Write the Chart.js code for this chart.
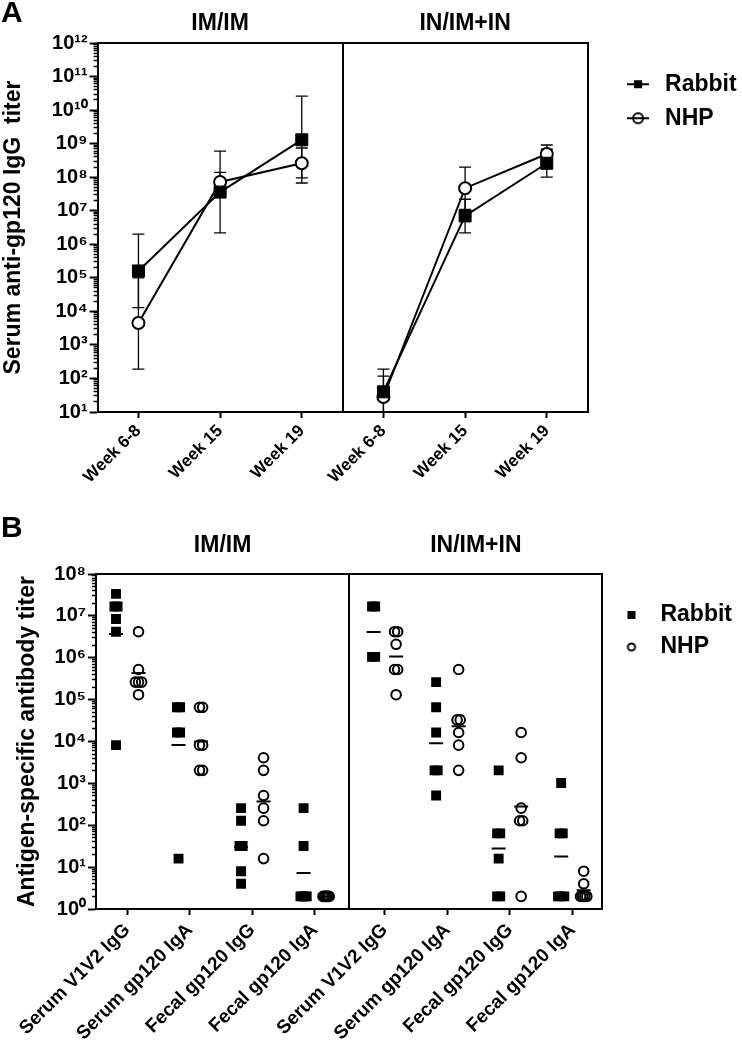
<!DOCTYPE html>
<html><head><meta charset="utf-8">
<script src="https://cdn.jsdelivr.net/npm/chart.js@4.4.1/dist/chart.umd.min.js"></script>
<style>
html,body{margin:0;padding:0;background:#fff;}
#wrap{position:relative;width:742px;height:1042px;overflow:hidden;font-family:"Liberation Sans",Arial,sans-serif;}
canvas{position:absolute;left:0;}
#cA{top:0}
#cB{top:490px}
.lbl{position:absolute;font-weight:bold;font-size:30px;line-height:1;color:#000}
</style></head>
<body><div id="wrap">
<canvas id="cA" width="742" height="490"></canvas>
<canvas id="cB" width="742" height="552"></canvas>
<div class="lbl" style="left:1px;top:-3px">A</div>
<div class="lbl" style="left:1px;top:512px">B</div>
</div>
<script>
// ---------- Panel A data ----------
const weekLabels = ['Week 6-8', 'Week 15', 'Week 19', 'Week 6-8', 'Week 15', 'Week 19'];
const regimenLabels = ['IM/IM', 'IN/IM+IN'];
const panelOfWeek = [0, 0, 0, 1, 1, 1];
const rabbitTiterA = [1.6e5, 3.6e7, 1.3e9, 40, 7.0e6, 2.6e8];
const rabbitLowA   = [1.3e4, 2.2e6, 6.7e7, 8, 2.2e6, 1.0e8];
const rabbitHighA  = [2.0e6, 6.0e8, 2.6e10, 190, 2.2e7, 6.8e8];
const nhpTiterA = [4.5e3, 7.2e7, 2.6e8, 28, 4.7e7, 4.9e8];
const nhpLowA   = [190, 3.7e7, 9.5e7, 6, 1.1e7, 2.6e8];
const nhpHighA  = [1.0e5, 1.4e8, 7.4e8, 118, 2.0e8, 9.1e8];
const yExpA = [1, 12];

// ---------- Panel B data ----------
const assayLabels = ['Serum V1V2 IgG', 'Serum gp120 IgA', 'Fecal gp120 IgG', 'Fecal gp120 IgA',
                     'Serum V1V2 IgG', 'Serum gp120 IgA', 'Fecal gp120 IgG', 'Fecal gp120 IgA'];
const regimenOfAssay = [0, 0, 0, 0, 1, 1, 1, 1];
const rabbitTiterB = [
  [33554432, 16777216, 16777216, 8388608, 4194304, 8192],
  [65536, 65536, 16384, 16384, 16],
  [256, 128, 32, 32, 8, 4],
  [256, 32, 2, 2, 2, 2],
  [16777216, 16777216, 1048576, 1048576],
  [262144, 65536, 16384, 2048, 2048, 512],
  [2048, 64, 64, 16, 2, 2],
  [1024, 64, 64, 2, 2, 2]
];
const nhpTiterB = [
  [4194304, 524288, 262144, 262144, 262144, 131072],
  [65536, 65536, 8192, 8192, 2048, 2048],
  [4096, 2048, 512, 256, 128, 16],
  [2, 2, 2, 2, 2, 2],
  [4194304, 4194304, 2097152, 524288, 524288, 131072],
  [524288, 32768, 32768, 16384, 8192, 2048],
  [16384, 4096, 256, 128, 128, 2],
  [8, 4, 2, 2, 2, 2]
];
const rabbitMeanB = [3.7e6, 8.3e3, 30, 7.2, 4.1e6, 9.1e3, 28, 18];
const nhpMeanB    = [4.3e5, 1.0e4, 370, 2, 1.07e6, 2.3e4, 280, 2.8];
const yExpB = [0, 8];

// ---------- helpers ----------
const FONT = '"Liberation Sans", Arial, sans-serif';
Chart.defaults.font.family = FONT;
Chart.defaults.color = '#000';
const SUP = '⁰¹²³⁴⁵⁶⁷⁸⁹';
const sup = n => String(n).split('').map(d => SUP[+d]).join('');
const powLabel = v => '10' + sup(Math.round(Math.log10(v)));
function majorTicks(r) { const t = []; for (let e = r[0]; e <= r[1]; e++) t.push({value: Math.pow(10, e)}); return t; }
function minorTicks(r) { const t = []; for (let e = r[0]; e < r[1]; e++) for (let k = 2; k <= 9; k++) t.push({value: k * Math.pow(10, e)}); return t; }
function icon(w, h, draw) { const c = document.createElement('canvas'); c.width = w; c.height = h; draw(c.getContext('2d')); return c; }

const errorBarPlugin = {
  id: 'errorBars',
  beforeDatasetsDraw(chart) {
    const {ctx, chartArea: a, scales: {x, y}} = chart;
    ctx.save();
    ctx.beginPath(); ctx.rect(a.left, a.top, a.right - a.left, a.bottom - a.top); ctx.clip();
    ctx.strokeStyle = '#000'; ctx.lineWidth = 1.3;
    chart.data.datasets.forEach(ds => {
      if (!ds.errLow) return;
      ds.errLow.forEach((lo, i) => {
        const px = x.getPixelForValue(i);
        const y1 = y.getPixelForValue(lo), y2 = y.getPixelForValue(ds.errHigh[i]);
        ctx.beginPath();
        ctx.moveTo(px, y1); ctx.lineTo(px, y2);
        ctx.moveTo(px - 6, y1); ctx.lineTo(px + 6, y1);
        ctx.moveTo(px - 6, y2); ctx.lineTo(px + 6, y2);
        ctx.stroke();
      });
    });
    ctx.restore();
  }
};

function iconLegend(icons) {
  return chart => Chart.defaults.plugins.legend.labels.generateLabels(chart)
    .filter(it => icons[it.datasetIndex])
    .map(it => Object.assign(it, {pointStyle: icons[it.datasetIndex], fontColor: '#000'}));
}

const topAxis = (h, pad) => ({
  type: 'category', labels: regimenLabels, position: 'top', offset: true,
  grid: {offset: true, drawTicks: false, lineWidth: 2, color: c => c.index === 1 ? '#000' : 'rgba(0,0,0,0)'},
  border: {display: true, color: '#000', width: 2},
  ticks: {font: {size: 23, weight: 'bold'}, padding: pad},
  afterFit(s) { s.height = h; }
});
const rightFrame = w => ({
  type: 'linear', position: 'right',
  grid: {display: false, drawTicks: false}, ticks: {display: false},
  border: {display: true, color: '#000', width: 2},
  afterFit(s) { s.width = w; }
});
const yMajor = (r, w, title, tpad) => ({
  type: 'logarithmic', position: 'left', min: Math.pow(10, r[0]), max: Math.pow(10, r[1]),
  afterBuildTicks(s) { s.ticks = majorTicks(r); },
  ticks: {autoSkip: false, callback: powLabel, font: {size: 20, weight: 'bold'}, padding: 2},
  grid: {drawOnChartArea: false, tickLength: 8, tickWidth: 2, tickColor: '#000'},
  border: {color: '#000', width: 2},
  title: {display: true, text: title, font: {size: 23, weight: 'bold'}, padding: {top: tpad, bottom: 0}},
  afterFit(s) { s.width = w; }
});
const yMinor = r => ({
  type: 'logarithmic', position: 'left', weight: -1, min: Math.pow(10, r[0]), max: Math.pow(10, r[1]),
  afterBuildTicks(s) { s.ticks = minorTicks(r); },
  ticks: {display: false},
  grid: {drawOnChartArea: false, tickLength: 4, tickWidth: 1.5, tickColor: '#000'},
  border: {display: false},
  afterFit(s) { s.width = 0; }
});

// ---------- Chart A ----------
const iconRabbitA = icon(22, 14, g => { g.fillStyle = '#000'; g.fillRect(0, 6, 22, 2); g.fillRect(7, 3, 8, 8); });
const iconNhpA = icon(22, 14, g => {
  g.strokeStyle = '#000'; g.lineWidth = 2;
  g.beginPath(); g.moveTo(0, 7); g.lineTo(22, 7); g.stroke();
  g.beginPath(); g.arc(11, 7, 5, 0, 2 * Math.PI); g.stroke();
});
const hideCross = c => panelOfWeek[c.p0DataIndex] !== panelOfWeek[c.p1DataIndex] ? 'rgba(0,0,0,0)' : undefined;

new Chart(document.getElementById('cA'), {
  type: 'line',
  data: {
    labels: weekLabels,
    datasets: [
      {label: 'Rabbit', data: rabbitTiterA, errLow: rabbitLowA, errHigh: rabbitHighA,
       borderColor: '#000', borderWidth: 2, pointStyle: 'rect', pointRadius: 8.5,
       pointBackgroundColor: '#000', pointBorderColor: '#000', pointBorderWidth: 1,
       segment: {borderColor: hideCross}},
      {label: 'NHP', data: nhpTiterA, errLow: nhpLowA, errHigh: nhpHighA,
       borderColor: '#000', borderWidth: 2, pointStyle: 'circle', pointRadius: 6,
       pointBackgroundColor: '#fff', pointBorderColor: '#000', pointBorderWidth: 2,
       segment: {borderColor: hideCross}}
    ]
  },
  options: {
    responsive: false, animation: false, events: [],
    layout: {padding: 0},
    scales: {
      x: {type: 'category', offset: true,
          grid: {drawOnChartArea: false, tickLength: 6, tickWidth: 2, tickColor: '#000'},
          border: {color: '#000', width: 2},
          ticks: {autoSkip: false, minRotation: 45, maxRotation: 45, padding: 3, font: {size: 17, weight: 'bold'}},
          afterFit(s) { s.height = 78; }},
      x2: topAxis(43, 6),
      y: yMajor(yExpA, 97.6, 'Serum anti-gp120 IgG  titer', 0),
      yMinor: yMinor(yExpA),
      yR: rightFrame(24)
    },
    plugins: {
      tooltip: {enabled: false},
      legend: {
        position: 'right', align: 'start', fullSize: false, maxWidth: 130.4,
        title: {display: true, text: ' ', font: {size: 1}, padding: {top: 17.5, bottom: 0}},
        labels: {usePointStyle: true, pointStyleWidth: 31, padding: 11, color: '#000',
                 font: {size: 23, weight: 'bold'}, generateLabels: iconLegend([iconRabbitA, iconNhpA])}
      }
    }
  },
  plugins: [errorBarPlugin]
});

// ---------- Chart B ----------
const groupGap = 0.12, dodge = 0.18;
const catX = assayLabels.map((_, i) => i + regimenOfAssay[i] * groupGap);
function swarm(groups, side) {
  const pts = [];
  groups.forEach((vals, i) => {
    const count = {}, seen = {};
    vals.forEach(v => { count[v] = (count[v] || 0) + 1; });
    vals.forEach(v => {
      const n = count[v], k = seen[v] = (seen[v] === undefined ? 0 : seen[v] + 1);
      const width = Math.min(n - 1, 2) * 0.05;
      const off = n > 1 ? -width / 2 + k * width / (n - 1) : 0;
      pts.push({x: catX[i] + side + off, y: v});
    });
  });
  return pts;
}
const meanPts = (means, side) => means.map((m, i) => ({x: catX[i] + side, y: m}));

const iconRabbitB = icon(10, 10, g => { g.fillStyle = '#000'; g.fillRect(1, 1, 8, 8); });
const iconNhpB = icon(12, 12, g => { g.strokeStyle = '#000'; g.lineWidth = 2; g.beginPath(); g.arc(6, 6, 3.6, 0, 2 * Math.PI); g.stroke(); });

new Chart(document.getElementById('cB'), {
  type: 'scatter',
  data: {
    datasets: [
      {label: 'Rabbit', data: swarm(rabbitTiterB, -dodge), order: 1,
       pointStyle: 'rect', pointRadius: 7, pointBackgroundColor: '#000', pointBorderColor: '#000', pointBorderWidth: 0},
      {label: 'NHP', data: swarm(nhpTiterB, dodge), order: 1,
       pointStyle: 'circle', pointRadius: 4.8, pointBackgroundColor: 'rgba(0,0,0,0)', pointBorderColor: '#000', pointBorderWidth: 2},
      {label: 'Rabbit mean', data: meanPts(rabbitMeanB, -dodge), order: 0,
       pointStyle: 'line', pointRadius: 7, pointBorderColor: '#000', pointBorderWidth: 2},
      {label: 'NHP mean', data: meanPts(nhpMeanB, dodge), order: 0,
       pointStyle: 'line', pointRadius: 7, pointBorderColor: '#000', pointBorderWidth: 2}
    ]
  },
  options: {
    responsive: false, animation: false, events: [],
    layout: {padding: 0},
    scales: {
      x: {type: 'linear', min: -0.5, max: 7.6,
          afterBuildTicks(s) { s.ticks = catX.map(v => ({value: v})); },
          grid: {drawOnChartArea: false, tickLength: 6, tickWidth: 2, tickColor: '#000'},
          border: {color: '#000', width: 2},
          ticks: {autoSkip: false, minRotation: 45, maxRotation: 45, padding: 4,
                  callback: (v, i) => assayLabels[i], font: {size: 19, weight: 'bold'}},
          afterFit(s) { s.height = 133; }},
      x2: topAxis(84, 14.7),
      y: yMajor(yExpB, 96, 'Antigen-specific antibody titer', 14),
      yMinor: yMinor(yExpB),
      yR: rightFrame(2.5)
    },
    plugins: {
      tooltip: {enabled: false},
      legend: {
        position: 'right', align: 'start', fullSize: false, maxWidth: 137.5,
        title: {display: true, text: ' ', font: {size: 1}, padding: {top: 19.3, bottom: 0}},
        labels: {usePointStyle: true, pointStyleWidth: 35, padding: 9, color: '#000',
                 font: {size: 23, weight: 'bold'}, generateLabels: iconLegend([iconRabbitB, iconNhpB])}
      }
    }
  }
});
</script>
</body></html>
